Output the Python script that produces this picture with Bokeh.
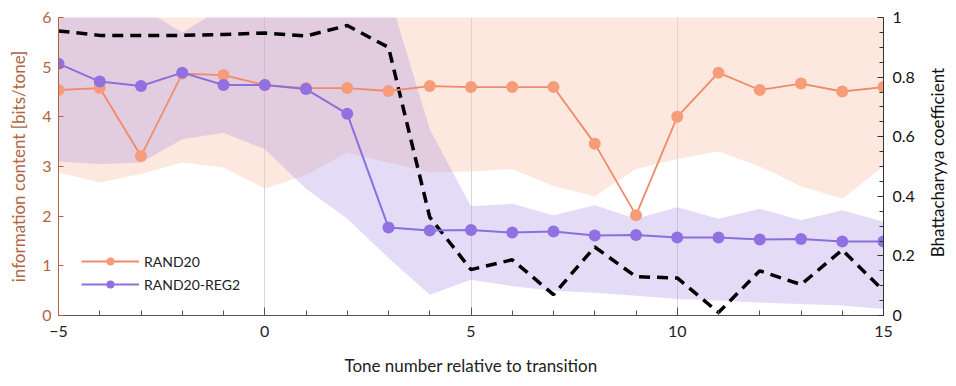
import math
from bokeh.plotting import figure
from bokeh.layouts import row
from bokeh.models import Range1d, LinearAxis, FixedTicker, SingleIntervalTicker, Legend, LegendItem
from bokeh.core.properties import value
from bokeh.embed import file_html
from bokeh.resources import INLINE

# ---- data ----
tones = [-5, -4, -3, -2, -1, 0, 1, 2, 3, 4, 5, 6, 7, 8, 9, 10, 11, 12, 13, 14, 15]
rand20 = [4.54, 4.58, 3.21, 4.87, 4.84, 4.64, 4.58, 4.58, 4.52, 4.62, 4.60,
          4.60, 4.60, 3.46, 2.02, 4.00, 4.89, 4.54, 4.67, 4.51, 4.60]
rand20_reg2 = [5.07, 4.71, 4.62, 4.89, 4.64, 4.64, 4.56, 4.06, 1.77, 1.71, 1.72,
               1.67, 1.69, 1.61, 1.62, 1.57, 1.57, 1.53, 1.54, 1.49, 1.49]
rand20_lo = [2.88, 2.68, 2.85, 3.08, 2.98, 2.55, 2.83, 3.28, 3.08, 2.88, 2.90,
             2.95, 2.60, 2.40, 2.95, 3.15, 3.30, 3.00, 2.60, 2.35, 3.00]
rand20_hi = [6.6, 6.6, 6.6, 6.6, 6.6, 6.6, 6.6, 6.6, 6.6, 6.6, 6.6,
             6.6, 6.6, 6.6, 6.6, 6.6, 6.6, 6.6, 6.6, 6.6, 6.6]
reg2_lo = [3.10, 3.05, 3.08, 3.55, 3.68, 3.35, 2.55, 1.95, 1.16, 0.42, 0.72,
           0.59, 0.50, 0.46, 0.40, 0.33, 0.30, 0.26, 0.23, 0.20, 0.13]
reg2_hi = [6.3, 6.1, 6.2, 5.7, 6.2, 6.3, 6.4, 6.6, 6.5, 3.75, 2.20,
           2.25, 2.02, 2.22, 1.95, 2.18, 1.95, 2.15, 1.92, 2.12, 1.89]
bhatt = [0.955, 0.940, 0.940, 0.940, 0.943, 0.948, 0.938, 0.973, 0.900, 0.330, 0.154,
         0.187, 0.070, 0.230, 0.130, 0.126, 0.010, 0.150, 0.104, 0.220, 0.083]

x_ticks = [-5, 0, 5, 10, 15]
y_ticks = [0, 1, 2, 3, 4, 5, 6]
grid_x = [0, 5, 10]
right_title = "Bhattacharyya coefficient"

FONT = "Lato"
BROWN = "#b0653f"
ORANGE_LINE = "#f08a68"
ORANGE_MARK = "#f79c78"
PURPLE_LINE = "#8b6fdc"
PURPLE_MARK = "#9170e2"

p = figure(width=918, height=378, output_backend="svg", toolbar_location=None,
           x_range=Range1d(-5, 15), y_range=Range1d(0, 6),
           min_border_left=58, min_border_right=35, min_border_top=17, min_border_bottom=60)
p.outline_line_color = None
p.background_fill_color = "white"

p.extra_y_ranges = {"bc": Range1d(0, 1)}

# bands
p.varea(x=tones, y1=rand20_lo, y2=rand20_hi, fill_color="#f9c9b0", fill_alpha=0.42)
p.varea(x=tones, y1=reg2_lo, y2=reg2_hi, fill_color="#a58be0", fill_alpha=0.30)

# dashed Bhattacharyya line
p.line(tones, bhatt, y_range_name="bc", line_color="black", line_width=3.5, line_dash="11 7")

# series
l1 = p.line(tones, rand20, line_color=ORANGE_LINE, line_width=1.8)
s1 = p.scatter(tones, rand20, size=12, fill_color=ORANGE_MARK, line_color=None)
l2 = p.line(tones, rand20_reg2, line_color=PURPLE_LINE, line_width=2)
s2 = p.scatter(tones, rand20_reg2, size=12, fill_color=PURPLE_MARK, line_color=None)

# grid
p.ygrid.grid_line_color = None
p.xgrid.ticker = FixedTicker(ticks=grid_x)
p.xgrid.grid_line_color = "#d8d8d8"
p.xgrid.grid_line_width = 1

# x axis
xa = p.xaxis[0]
xa.ticker = SingleIntervalTicker(interval=5, num_minor_ticks=5)
xa.axis_label = "Tone number relative to transition"
xa.axis_label_text_font = FONT
xa.axis_label_text_font_size = "17px"
xa.axis_label_text_font_style = "normal"
xa.axis_label_text_color = "#222222"
xa.axis_label_standoff = 15
xa.major_label_text_font = FONT
xa.major_label_text_font_size = "16px"
xa.major_label_text_color = "#222222"
xa.major_label_standoff = 10
xa.axis_line_color = "#555555"
xa.major_tick_line_color = "#555555"
xa.minor_tick_line_color = "#555555"
xa.major_tick_in = 8
xa.major_tick_out = 0
xa.minor_tick_in = 5
xa.minor_tick_out = 0

# left axis
ya = p.yaxis[0]
ya.ticker = FixedTicker(ticks=y_ticks)
ya.axis_label = "information content [bits/tone]"
ya.axis_label_text_font = FONT
ya.axis_label_text_font_size = "17px"
ya.axis_label_text_font_style = "normal"
ya.axis_label_text_color = BROWN
ya.axis_label_standoff = 10
ya.major_label_text_font = FONT
ya.major_label_text_font_size = "16px"
ya.major_label_text_color = BROWN
ya.major_label_standoff = 7
ya.axis_line_color = BROWN
ya.major_tick_line_color = BROWN
ya.major_tick_in = 5
ya.major_tick_out = 0
ya.minor_tick_line_color = None

# right axis (ticks only)
ra = LinearAxis(y_range_name="bc", ticker=SingleIntervalTicker(interval=0.2, num_minor_ticks=4))
ra.major_label_text_font = FONT
ra.major_label_text_font_size = "16px"
ra.major_label_text_color = "#111111"
ra.major_label_standoff = 9
ra.axis_line_color = "#333333"
ra.major_tick_line_color = "#333333"
ra.minor_tick_line_color = "#333333"
ra.major_tick_in = 6
ra.major_tick_out = 0
ra.minor_tick_in = 4
ra.minor_tick_out = 0
p.add_layout(ra, "right")

legend = Legend(items=[LegendItem(label="RAND20", renderers=[l1, s1]),
                       LegendItem(label="RAND20-REG2", renderers=[l2, s2])],
                location=(19, 17))
legend.label_text_font = FONT
legend.label_text_font_size = "14px"
legend.label_text_color = "#222222"
legend.glyph_width = 58
legend.glyph_height = 20
legend.spacing = 3
legend.padding = 4
legend.background_fill_alpha = 0
legend.border_line_alpha = 0
p.add_layout(legend, "center")

# narrow side panel carrying the right-axis title, reading bottom-to-top
p2 = figure(width=30, height=378, output_backend="svg", toolbar_location=None,
            x_range=Range1d(0, 30), y_range=Range1d(0, 378),
            min_border_left=0, min_border_right=0, min_border_top=0, min_border_bottom=0)
p2.axis.visible = False
p2.grid.grid_line_color = None
p2.outline_line_color = None
p2.text(x=[19], y=[194], text=[right_title], angle=math.pi / 2,
        text_align="center", text_baseline="middle",
        text_font=value(FONT), text_font_size="17px", text_color="#111111")

open("out.html", "w").write(file_html(row(p, p2, spacing=0), INLINE))
